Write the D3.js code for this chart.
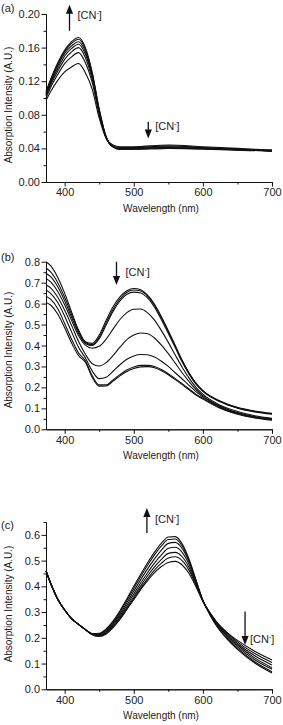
<!DOCTYPE html>
<html>
<head>
<meta charset="utf-8">
<script src="https://cdn.jsdelivr.net/npm/d3@7"></script>
<style>
  body { margin: 0; background: #fff; }
  svg { display: block; font-family: "Liberation Sans", Arial, sans-serif; }
  .axis path, .axis line { stroke: #111; stroke-width: 1; }
  .axis text { font-size: 11px; fill: #222; }
  .title { font-size: 10px; fill: #222; }
  .spec { fill: none; stroke: #111; stroke-width: 1.1; }
</style>
</head>
<body>
<script>
// x axis shared by all three panels
const xTicks = [400, 500, 600, 700];
const xMinor = [450, 550, 650];

// panel (a)
const wavelengthA = [373, 380, 390, 400, 410, 420, 430, 440, 450, 460, 470, 480, 500, 550, 600, 650, 700];
const absorbanceA = [
  [0.097, 0.108, 0.121, 0.131, 0.137, 0.141, 0.130, 0.110, 0.076, 0.052, 0.044, 0.042, 0.042, 0.044, 0.042, 0.040, 0.038],
  [0.100, 0.113, 0.128, 0.141, 0.149, 0.154, 0.142, 0.118, 0.080, 0.052, 0.043, 0.041, 0.041, 0.043, 0.041, 0.039, 0.038],
  [0.102, 0.116, 0.132, 0.146, 0.155, 0.160, 0.148, 0.122, 0.082, 0.053, 0.042, 0.040, 0.041, 0.042, 0.041, 0.039, 0.037],
  [0.104, 0.118, 0.135, 0.150, 0.159, 0.164, 0.152, 0.125, 0.084, 0.053, 0.042, 0.040, 0.040, 0.041, 0.040, 0.039, 0.037],
  [0.105, 0.120, 0.138, 0.153, 0.162, 0.167, 0.155, 0.127, 0.085, 0.053, 0.042, 0.039, 0.040, 0.041, 0.040, 0.039, 0.037],
  [0.106, 0.121, 0.140, 0.155, 0.165, 0.170, 0.158, 0.129, 0.086, 0.054, 0.042, 0.039, 0.039, 0.040, 0.040, 0.038, 0.037],
  [0.108, 0.123, 0.142, 0.157, 0.167, 0.172, 0.160, 0.130, 0.087, 0.054, 0.042, 0.039, 0.039, 0.040, 0.039, 0.038, 0.037]
];
const yTicksA = [0, 0.04, 0.08, 0.12, 0.16, 0.20];
const yMinorA = [0.02, 0.06, 0.10, 0.14, 0.18];

// panel (b)
const wavelengthB = [373, 380, 390, 400, 410, 420, 430, 440, 450, 460, 470, 480, 490, 500, 510, 520, 530, 540, 550, 560, 570, 580, 590, 600, 625, 650, 675, 700];
const absorbanceB = [
  [0.800, 0.780, 0.725, 0.650, 0.560, 0.475, 0.418, 0.410, 0.450, 0.520, 0.585, 0.632, 0.661, 0.672, 0.666, 0.641, 0.597, 0.537, 0.470, 0.400, 0.330, 0.270, 0.220, 0.185, 0.135, 0.105, 0.087, 0.076],
  [0.770, 0.750, 0.700, 0.630, 0.548, 0.468, 0.414, 0.404, 0.440, 0.508, 0.573, 0.622, 0.654, 0.665, 0.660, 0.636, 0.592, 0.532, 0.466, 0.396, 0.327, 0.267, 0.218, 0.183, 0.133, 0.103, 0.085, 0.074],
  [0.745, 0.727, 0.680, 0.613, 0.535, 0.460, 0.410, 0.400, 0.432, 0.498, 0.563, 0.613, 0.645, 0.655, 0.651, 0.627, 0.583, 0.523, 0.457, 0.390, 0.321, 0.263, 0.215, 0.181, 0.131, 0.101, 0.083, 0.072],
  [0.720, 0.703, 0.658, 0.594, 0.520, 0.448, 0.402, 0.387, 0.396, 0.430, 0.478, 0.524, 0.557, 0.573, 0.574, 0.556, 0.521, 0.471, 0.415, 0.355, 0.296, 0.244, 0.200, 0.168, 0.115, 0.085, 0.065, 0.053],
  [0.690, 0.674, 0.630, 0.568, 0.496, 0.420, 0.358, 0.313, 0.302, 0.318, 0.352, 0.392, 0.428, 0.450, 0.460, 0.456, 0.436, 0.402, 0.361, 0.316, 0.270, 0.228, 0.190, 0.160, 0.110, 0.080, 0.061, 0.049],
  [0.665, 0.648, 0.605, 0.540, 0.465, 0.392, 0.340, 0.278, 0.242, 0.248, 0.277, 0.308, 0.334, 0.350, 0.357, 0.356, 0.345, 0.325, 0.300, 0.270, 0.240, 0.210, 0.180, 0.155, 0.107, 0.078, 0.059, 0.048],
  [0.635, 0.620, 0.575, 0.505, 0.430, 0.365, 0.327, 0.255, 0.212, 0.212, 0.236, 0.261, 0.283, 0.297, 0.305, 0.305, 0.300, 0.285, 0.265, 0.242, 0.218, 0.193, 0.168, 0.148, 0.103, 0.075, 0.057, 0.046],
  [0.605, 0.592, 0.550, 0.485, 0.412, 0.352, 0.320, 0.247, 0.206, 0.207, 0.230, 0.255, 0.276, 0.290, 0.298, 0.299, 0.294, 0.280, 0.260, 0.237, 0.213, 0.188, 0.164, 0.144, 0.100, 0.072, 0.054, 0.043]
];
const yTicksB = [0, 0.1, 0.2, 0.3, 0.4, 0.5, 0.6, 0.7, 0.8];
const yMinorB = [0.05, 0.15, 0.25, 0.35, 0.45, 0.55, 0.65, 0.75];

// panel (c)
const wavelengthC = [373, 380, 390, 400, 410, 420, 430, 440, 450, 460, 470, 480, 490, 500, 510, 520, 530, 540, 550, 560, 570, 580, 590, 600, 610, 620, 635, 650, 675, 700];
const absorbanceC = [
  [0.460, 0.410, 0.350, 0.308, 0.275, 0.252, 0.232, 0.217, 0.218, 0.235, 0.265, 0.305, 0.352, 0.400, 0.447, 0.492, 0.533, 0.568, 0.592, 0.593, 0.565, 0.505, 0.425, 0.345, 0.290, 0.245, 0.195, 0.155, 0.102, 0.063],
  [0.460, 0.410, 0.350, 0.308, 0.275, 0.252, 0.232, 0.216, 0.216, 0.232, 0.261, 0.300, 0.345, 0.392, 0.438, 0.482, 0.522, 0.557, 0.582, 0.584, 0.557, 0.500, 0.423, 0.345, 0.292, 0.248, 0.199, 0.160, 0.107, 0.068],
  [0.460, 0.410, 0.350, 0.308, 0.275, 0.252, 0.232, 0.215, 0.213, 0.228, 0.256, 0.293, 0.336, 0.381, 0.426, 0.468, 0.507, 0.541, 0.567, 0.571, 0.547, 0.495, 0.420, 0.345, 0.294, 0.252, 0.205, 0.166, 0.115, 0.078],
  [0.460, 0.410, 0.350, 0.308, 0.275, 0.252, 0.232, 0.214, 0.211, 0.224, 0.251, 0.286, 0.327, 0.370, 0.413, 0.453, 0.490, 0.522, 0.548, 0.552, 0.532, 0.485, 0.415, 0.344, 0.295, 0.255, 0.210, 0.172, 0.122, 0.084],
  [0.460, 0.410, 0.350, 0.308, 0.275, 0.252, 0.232, 0.213, 0.209, 0.221, 0.247, 0.280, 0.319, 0.360, 0.402, 0.441, 0.476, 0.505, 0.528, 0.532, 0.515, 0.473, 0.410, 0.343, 0.297, 0.258, 0.215, 0.178, 0.130, 0.094],
  [0.460, 0.410, 0.350, 0.308, 0.275, 0.252, 0.232, 0.213, 0.207, 0.218, 0.243, 0.275, 0.313, 0.353, 0.393, 0.430, 0.463, 0.490, 0.510, 0.515, 0.500, 0.462, 0.405, 0.342, 0.298, 0.261, 0.220, 0.184, 0.139, 0.104],
  [0.460, 0.410, 0.350, 0.308, 0.275, 0.252, 0.232, 0.212, 0.205, 0.215, 0.240, 0.272, 0.310, 0.348, 0.387, 0.422, 0.453, 0.477, 0.493, 0.497, 0.483, 0.450, 0.398, 0.341, 0.298, 0.260, 0.220, 0.190, 0.148, 0.114]
];
const yTicksC = [0, 0.1, 0.2, 0.3, 0.4, 0.5, 0.6];
const yMinorC = [0.05, 0.15, 0.25, 0.35, 0.45, 0.55, 0.65];

const width = 283;
const height = 725;
const axesSpace = { left: 46, right: 272 };

const panels = [
  {
    label: '(a)', labelY: 12, wl: wavelengthA, series: absorbanceA,
    yDomain: [0, 0.2], yRange: [182, 14], yTicks: yTicksA, yMinor: yMinorA, fmt: '.2f',
    titleY: 105,
    arrows: [
      { x: 407, from: 0.180, to: 0.211, dx: 8, dy: 14 },
      { x: 521, from: 0.0716, to: 0.0518, dx: 7, dy: 8 }
    ]
  },
  {
    label: '(b)', labelY: 261, wl: wavelengthB, series: absorbanceB,
    yDomain: [0, 0.8], yRange: [429.3, 261.7], yTicks: yTicksB, yMinor: yMinorB, fmt: '.1f',
    titleY: 350,
    arrows: [
      { x: 475, from: 0.80, to: 0.689, dx: 9, dy: 14 }
    ]
  },
  {
    label: '(c)', labelY: 529, wl: wavelengthC, series: absorbanceC,
    yDomain: [0, 0.65], yRange: [689.3, 522], yTicks: yTicksC, yMinor: yMinorC, fmt: '.1f',
    titleY: 604,
    arrows: [
      { x: 519, from: 0.607, to: 0.704, dx: 8, dy: 15 },
      { x: 661, from: 0.302, to: 0.172, dx: 5, dy: 31 }
    ]
  }
];

const svg = d3.select('body')
  .append('svg')
  .attr('width', width)
  .attr('height', height);

const drawPanel = (p) => {
  const x = d3.scaleLinear()
    .domain([373, 700])
    .range([axesSpace.left, axesSpace.right]);
  const y = d3.scaleLinear()
    .domain(p.yDomain)
    .range(p.yRange);
  const bottom = p.yRange[0];

  const g = svg.append('g');

  // minor ticks first, majors on top
  g.append('g')
    .attr('class', 'axis')
    .attr('transform', `translate(0,${bottom})`)
    .call(d3.axisBottom(x).tickValues(xMinor).tickSize(2.5).tickSizeOuter(0).tickFormat(''));
  g.append('g')
    .attr('class', 'axis')
    .attr('transform', `translate(${axesSpace.left},0)`)
    .call(d3.axisLeft(y).tickValues(p.yMinor).tickSize(2.5).tickSizeOuter(0).tickFormat(''));

  g.append('g')
    .attr('class', 'axis')
    .attr('transform', `translate(0,${bottom})`)
    .call(d3.axisBottom(x).tickValues(xTicks).tickSize(4.5).tickSizeOuter(0).tickPadding(2));
  g.append('g')
    .attr('class', 'axis')
    .attr('transform', `translate(${axesSpace.left},0)`)
    .call(d3.axisLeft(y).tickValues(p.yTicks).tickSize(4.5).tickSizeOuter(0).tickPadding(1.5).tickFormat(d3.format(p.fmt)));

  const line = d3.line()
    .x((d, i) => x(p.wl[i]))
    .y(d => y(d))
    .curve(d3.curveMonotoneX);

  g.selectAll('path.spec')
    .data(p.series)
    .enter()
    .append('path')
    .attr('class', 'spec')
    .attr('d', line);

  // axis titles
  g.append('text')
    .attr('class', 'title')
    .attr('x', (axesSpace.left + axesSpace.right) / 2 + 2)
    .attr('y', bottom + 30)
    .attr('text-anchor', 'middle')
    .text('Wavelength (nm)');
  g.append('text')
    .attr('class', 'title')
    .attr('transform', `translate(11.5,${p.titleY}) rotate(-90)`)
    .attr('text-anchor', 'middle')
    .text('Absorption Intensity (A.U.)');

  g.append('text')
    .attr('class', 'title')
    .attr('x', 1)
    .attr('y', p.labelY)
    .style('font-size', '11px')
    .text(p.label);

  // [CN-] arrows
  p.arrows.forEach(a => {
    const ax = x(a.x);
    const y0 = y(a.from);
    const y1 = y(a.to);
    const dir = y1 < y0 ? 1 : -1;
    g.append('line')
      .attr('x1', ax).attr('x2', ax)
      .attr('y1', y0).attr('y2', y1 + dir * 6)
      .attr('stroke', '#111')
      .attr('stroke-width', 1.3);
    g.append('path')
      .attr('d', `M${ax},${y1} L${ax - 3.6},${y1 + dir * 9} L${ax + 3.6},${y1 + dir * 9} Z`)
      .attr('fill', '#111');
    const t = g.append('text')
      .attr('x', ax + a.dx)
      .attr('y', Math.min(y0, y1) + a.dy)
      .style('font-size', '11px')
      .attr('fill', '#222');
    t.append('tspan').text('[CN');
    t.append('tspan').attr('dy', -4).style('font-size', '7px').text('-');
    t.append('tspan').attr('dy', 4).text(']');
  });
};

panels.forEach(drawPanel);
</script>
</body>
</html>
